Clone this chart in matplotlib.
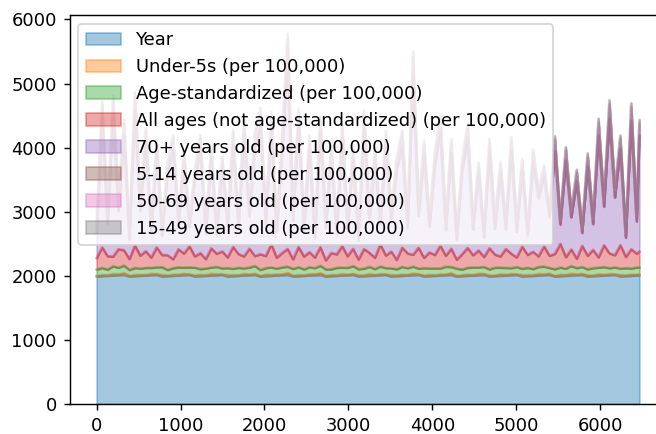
import numpy as np
import pandas as pd
import matplotlib
matplotlib.use("Agg")
import matplotlib.pyplot as plt

# sampled row positions of the full table (6468 rows, one every 65 + last one)
rows = np.append(np.arange(0, 6468, 65), 6467)

year = [1990, 1995, 2000, 2005, 2010, 2015, 1990, 1995, 2000, 2005,
        2010, 2015, 1990, 1995, 2000, 2005, 2010, 2015, 1990, 1995,
        2000, 2005, 2010, 2015, 1990, 1995, 2000, 2005, 2010, 2015,
        1990, 1995, 2000, 2005, 2010, 2015, 1990, 1995, 2000, 2005,
        2010, 2015, 1990, 1995, 2000, 2005, 2010, 2015, 1990, 1995,
        2000, 2005, 2010, 2015, 1990, 1995, 2000, 2005, 2010, 2015,
        1990, 1995, 2000, 2005, 2010, 2015, 1990, 1995, 2000, 2005,
        2010, 2015, 1990, 1995, 2000, 2005, 2010, 2015, 1990, 1995,
        2000, 2005, 2010, 2015, 1990, 1995, 2000, 2005, 2010, 2015,
        1990, 1995, 2000, 2005, 2010, 2015, 1990, 1995, 2000, 2005,
        2007]

under5 = [12, 18, 9, 25, 14, 30, 11, 20, 16, 8,
          22, 13, 27, 10, 19, 15, 24, 9, 17, 21,
          12, 28, 14, 10, 23, 16, 11, 26, 13, 19,
          9, 24, 15, 20, 12, 31, 14, 18, 10, 22,
          16, 27, 11, 19, 13, 25, 9, 17, 21, 14,
          29, 12, 18, 10, 23, 15, 20, 13, 26, 11,
          17, 22, 9, 19, 14, 28, 12, 16, 21, 10,
          24, 15, 18, 11, 27, 13, 20, 9, 22, 16,
          12, 25, 14, 19, 10, 23, 15, 30, 12, 18,
          21, 11, 26, 14, 17, 9, 24, 13, 20, 15,
          18]

age_std = [95, 110, 88, 120, 102, 115, 90, 108, 98, 112,
           92, 105, 118, 87, 100, 113, 94, 107, 121, 89,
           103, 96, 116, 91, 109, 99, 114, 86, 106, 119,
           93, 101, 117, 88, 110, 97, 104, 122, 90, 108,
           95, 115, 100, 87, 112, 98, 106, 120, 92, 103,
           111, 89, 117, 96, 105, 93, 119, 101, 108, 86,
           114, 99, 107, 91, 118, 95, 110, 88, 104, 116,
           97, 109, 92, 121, 100, 106, 90, 113, 98, 115,
           94, 108, 120, 89, 103, 111, 96, 117, 99, 105,
           91, 114, 102, 118, 93, 107, 100, 112, 95, 110,
           104]

all_ages = [180, 320, 210, 150, 290, 240, 170, 350, 200, 260,
            160, 310, 190, 230, 140, 280, 220, 330, 175, 250,
            145, 300, 205, 265, 165, 340, 215, 185, 295, 155,
            245, 190, 360, 170, 225, 275, 150, 315, 200, 235,
            165, 290, 140, 255, 210, 335, 180, 270, 150, 305,
            220, 175, 345, 195, 260, 145, 300, 230, 185, 325,
            160, 250, 210, 355, 170, 285, 140, 240, 310, 190,
            265, 155, 330, 205, 175, 295, 225, 150, 345, 200,
            270, 165, 315, 190, 240, 370, 180, 260, 145, 330,
            210, 285, 160, 340, 230, 190, 365, 175, 300, 215,
            250]

age_70 = [400, 2000, 500, 2200, 600, 1800, 300, 2100, 700, 1700,
          400, 1500, 300, 1300, 1700, 400, 1400, 300, 1200, 1600,
          400, 1400, 300, 1300, 500, 1600, 400, 1900, 500, 1700,
          2000, 500, 1800, 400, 1600, 2950, 600, 1900, 400, 1600,
          300, 1800, 500, 1500, 300, 1700, 400, 1400, 300, 1900,
          500, 1500, 300, 1700, 500, 1400, 1600, 400, 2800, 500,
          1600, 400, 1400, 1800, 400, 1500, 300, 1300, 1700, 400,
          1200, 300, 1500, 400, 1300, 300, 1600, 400, 1200, 300,
          1400, 900, 1100, 600, 1600, 300, 1500, 500, 1200, 200,
          1400, 400, 1900, 600, 2100, 900, 1500, 300, 2000, 500,
          1800]

age_5_14 = [6, 9, 4, 11, 7, 5, 12, 8, 6, 10,
            5, 8, 13, 6, 9, 4, 10, 7, 11, 5,
            8, 12, 6, 9, 5, 14, 7, 10, 4, 8,
            11, 6, 9, 13, 5, 8, 10, 7, 12, 6,
            9, 4, 11, 7, 14, 6, 8, 10, 5, 12,
            7, 9, 5, 13, 8, 6, 11, 4, 10, 7,
            12, 6, 9, 5, 11, 8, 14, 7, 10, 6,
            8, 13, 5, 9, 7, 11, 6, 10, 4, 12,
            9, 7, 14, 6, 10, 8, 12, 5, 11, 9,
            6, 10, 8, 13, 7, 9, 5, 11, 8, 12,
            7]

age_50_69 = [120, 210, 140, 230, 150, 180, 100, 220, 130, 170,
             110, 160, 90, 140, 175, 105, 150, 85, 130, 185,
             115, 150, 95, 140, 105, 170, 120, 205, 135, 180,
             215, 140, 195, 125, 175, 320, 160, 200, 130, 170,
             110, 190, 140, 165, 100, 185, 130, 160, 95, 200,
             135, 165, 115, 180, 130, 155, 175, 110, 290, 140,
             170, 115, 150, 190, 120, 160, 95, 140, 180, 110,
             130, 85, 160, 120, 140, 100, 170, 115, 130, 80,
             150, 95, 125, 70, 175, 60, 160, 80, 140, 65,
             150, 75, 200, 90, 220, 110, 160, 60, 210, 80,
             190]

age_15_49 = [35, 60, 40, 70, 45, 55, 30, 65, 40, 50,
             32, 45, 28, 40, 52, 30, 44, 25, 38, 55,
             34, 46, 29, 41, 31, 50, 36, 60, 40, 53,
             62, 42, 57, 37, 51, 85, 48, 58, 39, 50,
             33, 56, 41, 48, 30, 54, 38, 47, 28, 59,
             40, 49, 34, 53, 39, 46, 52, 33, 80, 42,
             50, 35, 44, 56, 36, 47, 28, 41, 53, 33,
             39, 26, 47, 36, 42, 30, 50, 34, 39, 24,
             45, 28, 37, 21, 52, 18, 47, 24, 41, 20,
             44, 22, 58, 27, 64, 32, 47, 18, 61, 24,
             55]

df = pd.DataFrame({
    "Year": year,
    "Under-5s (per 100,000)": under5,
    "Age-standardized (per 100,000)": age_std,
    "All ages (not age-standardized) (per 100,000)": all_ages,
    "70+ years old (per 100,000)": age_70,
    "5-14 years old (per 100,000)": age_5_14,
    "50-69 years old (per 100,000)": age_50_69,
    "15-49 years old (per 100,000)": age_15_49,
}, index=rows)

dpi = 129
fig = plt.figure(figsize=(656 / dpi, 434 / dpi), dpi=dpi)
ax = fig.add_axes([69.5 / 656, 30 / 434, 597 / 656, 389 / 434])

df.plot.area(ax=ax, alpha=0.4)
ax.legend(loc="upper left")

fig.savefig("out.png", dpi=dpi)
